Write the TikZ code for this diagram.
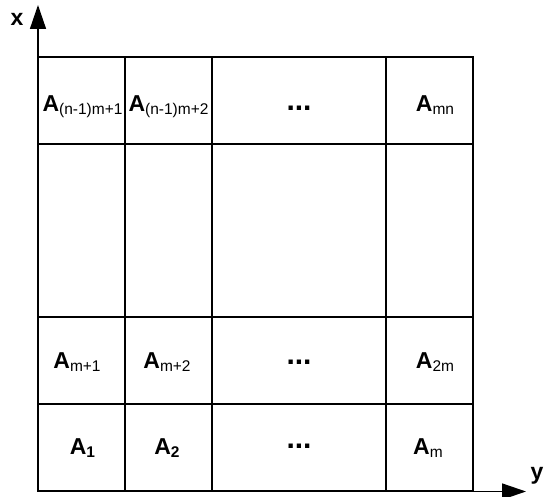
\documentclass[tikz,border=0pt]{standalone}
\usepackage{fontspec}
\setmainfont{Liberation Sans}
\usetikzlibrary{arrows.meta}
\newcommand{\Aof}[1]{{\fontsize{23}{23}\selectfont\bfseries A}\raisebox{-3pt}{\fontsize{15.5}{15.5}\selectfont #1}}
\begin{document}
\begin{tikzpicture}[x=1pt,y=-1pt,
  cell/.style={draw,line width=1.4pt,inner sep=0pt,outer sep=0pt,minimum width=87pt,minimum height=87pt},
  lbl/.style={inner sep=0pt,anchor=base},
  dots/.style={inner sep=0pt,anchor=base,font=\fontsize{30}{30}\selectfont\bfseries},
  axis/.style={line width=1.5pt,-{Triangle[length=24pt,width=16pt]}},
  axlbl/.style={inner sep=0pt,font=\fontsize{23}{23}\selectfont\bfseries}]
\useasboundingbox (0,0) rectangle (544,497);
% cells
\node[cell] (c11) at (81.5,100.5) {};
\node[cell] (c12) at (168.5,100.5) {};
\node[cell,minimum width=174pt] (c13) at (299,100.5) {};
\node[cell] (c14) at (429.5,100.5) {};
\node[cell,minimum height=173pt] (c21) at (81.5,230.5) {};
\node[cell,minimum height=173pt] (c22) at (168.5,230.5) {};
\node[cell,minimum width=174pt,minimum height=173pt] (c23) at (299,230.5) {};
\node[cell,minimum height=173pt] (c24) at (429.5,230.5) {};
\node[cell] (c31) at (81.5,360.5) {};
\node[cell] (c32) at (168.5,360.5) {};
\node[cell,minimum width=174pt] (c33) at (299,360.5) {};
\node[cell] (c34) at (429.5,360.5) {};
\node[cell] (c41) at (81.5,447.5) {};
\node[cell] (c42) at (168.5,447.5) {};
\node[cell,minimum width=174pt] (c43) at (299,447.5) {};
\node[cell] (c44) at (429.5,447.5) {};
% labels
\node[lbl] (t11) at (82.5,112) {\Aof{(n-1)m+1}};
\node[lbl] (t12) at (168.5,112) {\Aof{(n-1)m+2}};
\node[dots] (t13) at (299,111) {...};
\node[lbl] (t14) at (435,112) {\Aof{mn}};
\node[lbl] (t31) at (77,368) {\Aof{m+1}};
\node[lbl] (t32) at (167,368) {\Aof{m+2}};
\node[dots] (t33) at (299,364) {...};
\node[lbl] (t34) at (435,368) {\Aof{2m}};
\node[lbl] (t41) at (82.5,454) {\Aof{\bfseries 1}};
\node[lbl] (t42) at (167,454) {\Aof{\bfseries 2}};
\node[dots] (t43) at (299,448) {...};
\node[lbl] (t44) at (428,454) {\Aof{m}};
% axes
\coordinate (O) at (38,491.5);
\coordinate (xtip) at (38,5);
\coordinate (ytip) at (526,491.5);
\draw[axis] (O) -- (xtip);
\draw[axis] (O) -- (ytip);
\node[axlbl,anchor=base] (xl) at (17,26) {x};
\node[axlbl,anchor=base west] (yl) at (530.5,479) {y};
\end{tikzpicture}
\end{document}
